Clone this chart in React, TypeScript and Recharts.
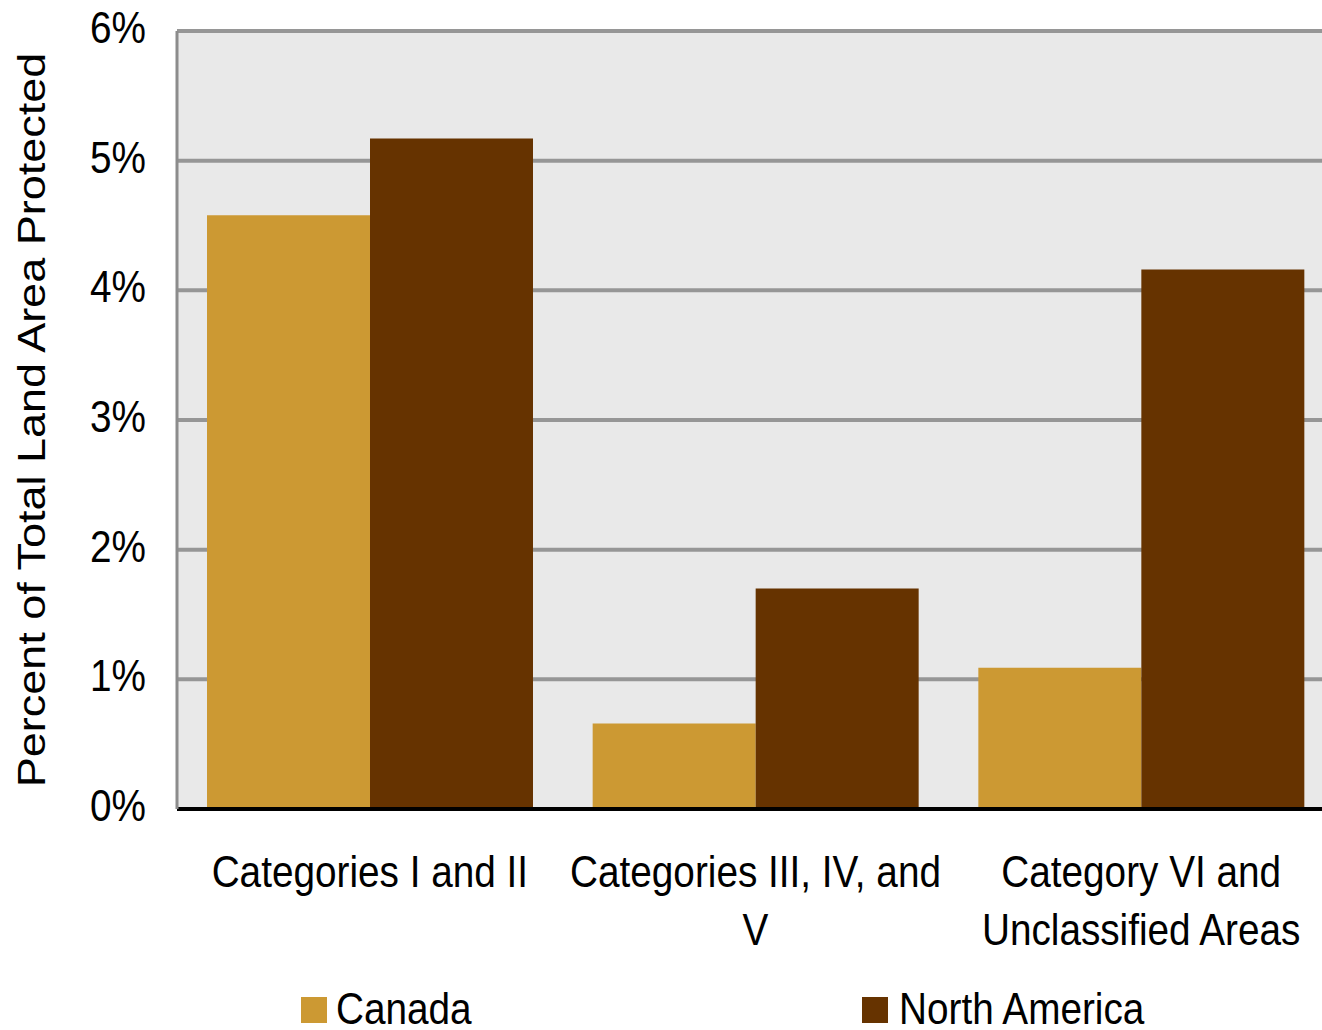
import React from "react";
import { BarChart, Bar, XAxis, YAxis, CartesianGrid, Legend } from "recharts";

const categories = [
  "Categories I and II",
  "Categories III, IV, and V",
  "Category VI and Unclassified Areas",
];
const categoryLines = [
  ["Categories I and II"],
  ["Categories III, IV, and", "V"],
  ["Category VI and", "Unclassified Areas"],
];
const canadaValues = [4.58, 0.66, 1.09];
const northAmericaValues = [5.17, 1.7, 4.16];
const yTicks = [0, 1, 2, 3, 4, 5, 6];
const seriesNames = ["Canada", "North America"];
const seriesColors = ["#CC9933", "#663300"];

const data = categories.map((c, i) => ({
  category: c,
  canada: canadaValues[i],
  northAmerica: northAmericaValues[i],
}));

const FONT = '"Liberation Sans", Arial, sans-serif';
const SQUEEZE = 0.88;

const XTick = (props: any) => {
  const { x, y, index } = props;
  const lines = categoryLines[index] || [String(props.payload.value)];
  return (
    <g transform={`translate(${x},${y})`}>
      {lines.map((l: string, i: number) => (
        <g key={i} transform={`translate(0,${78 + i * 58}) scale(${SQUEEZE},1)`}>
          <text textAnchor="middle" fontFamily={FONT} fontSize={44} fill="#000">
            {l}
          </text>
        </g>
      ))}
    </g>
  );
};

const YTick = (props: any) => {
  const { x, y, payload } = props;
  return (
    <g transform={`translate(${x - 31},${y + 12}) scale(${SQUEEZE},1)`}>
      <text textAnchor="end" fontFamily={FONT} fontSize={44} fill="#000">
        {`${payload.value}%`}
      </text>
    </g>
  );
};

const YLabel = (props: any) => {
  const vb = props.viewBox || { x: 0, y: 0, width: 0, height: 0 };
  const cx = vb.x + 37;
  const cy = vb.y + vb.height / 2;
  return (
    <g transform={`translate(${cx},${cy}) scale(${SQUEEZE},1) rotate(-90)`}>
      <text textAnchor="middle" fontFamily={FONT} fontSize={45} fill="#000">
        Percent of Total Land Area Protected
      </text>
    </g>
  );
};

const legendSquareLeft = [293, 854];
const legendTextLeft = [328, 891];

const LegendContent = (props: any) => {
  const payload = props.payload || [];
  return (
    <div style={{ position: "relative", width: 1330, height: 42, fontFamily: FONT }}>
      {payload.map((p: any, i: number) => (
        <React.Fragment key={i}>
          <div
            style={{
              position: "absolute",
              left: legendSquareLeft[i],
              top: 10,
              width: 26,
              height: 26,
              background: p.color,
            }}
          />
          <span
            style={{
              position: "absolute",
              left: legendTextLeft[i],
              top: 2,
              fontSize: 44,
              lineHeight: "40px",
              color: "#000",
              whiteSpace: "nowrap",
              transform: `scaleX(${SQUEEZE})`,
              transformOrigin: "left center",
            }}
          >
            {p.value}
          </span>
        </React.Fragment>
      ))}
    </div>
  );
};

export default function App() {
  return (
    <div
      style={{
        position: "fixed",
        left: 0,
        top: 0,
        width: 1322,
        height: 1030,
        overflow: "hidden",
        background: "#fff",
      }}
    >
      <div style={{ position: "absolute", left: 8, top: 0 }}>
        <BarChart
          width={1330}
          height={1045}
          data={data}
          margin={{ top: 31, right: 4, bottom: 0, left: 0 }}
          barGap={0}
          barCategoryGap={30}
        >
          <CartesianGrid
            vertical={false}
            fill="#E9E9E9"
            stroke="#969696"
            strokeWidth={4}
          />
          <XAxis
            dataKey="category"
            height={194}
            tickLine={false}
            tickSize={0}
            tickMargin={0}
            axisLine={{ stroke: "#000", strokeWidth: 4 }}
            tick={<XTick />}
            interval={0}
          />
          <YAxis
            width={169}
            domain={[0, 6]}
            ticks={yTicks}
            tickLine={false}
            tickSize={0}
            tickMargin={0}
            axisLine={{ stroke: "#8c8c8c", strokeWidth: 3 }}
            tick={<YTick />}
            label={{ content: <YLabel /> }}
          />
          <Legend
            content={<LegendContent />}
            wrapperStyle={{ top: 987, bottom: "auto", left: 0, height: 42 }}
          />
          <Bar
            dataKey="canada"
            name={seriesNames[0]}
            fill={seriesColors[0]}
            isAnimationActive={false}
          />
          <Bar
            dataKey="northAmerica"
            name={seriesNames[1]}
            fill={seriesColors[1]}
            isAnimationActive={false}
          />
        </BarChart>
      </div>
    </div>
  );
}
